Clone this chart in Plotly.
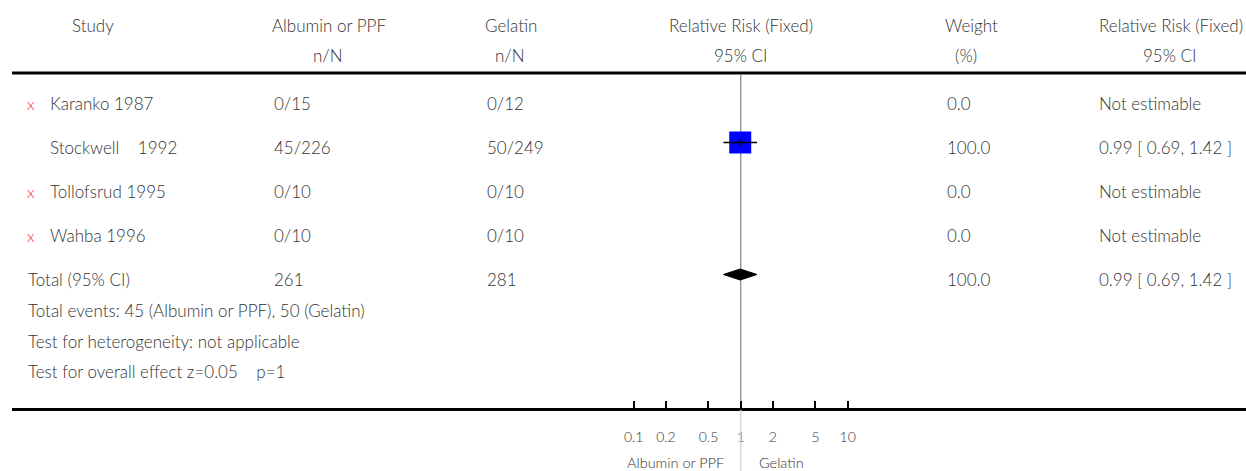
import math
import plotly.graph_objects as go

# ---------------- data ----------------
studies = ["Karanko 1987", "Stockwell    1992", "Tollofsrud 1995", "Wahba 1996"]
excluded = [True, False, True, True]
alb_n = [0, 45, 0, 0]
alb_N = [15, 226, 10, 10]
gel_n = [0, 50, 0, 0]
gel_N = [12, 249, 10, 10]
weights = [0.0, 100.0, 0.0, 0.0]
rr = [None, 0.99, None, None]
rr_lo = [None, 0.69, None, None]
rr_hi = [None, 1.42, None, None]

total_alb_N = 261
total_gel_N = 281
total_weight = 100.0
total_rr, total_lo, total_hi = 0.99, 0.69, 1.42
footer_lines = [
    "Total events: 45 (Albumin or PPF), 50 (Gelatin)",
    "Test for heterogeneity: not applicable",
    "Test for overall effect z=0.05    p=1",
]
tick_vals = [0.1, 0.2, 0.5, 1, 2, 5, 10]
tick_text = ["0.1", "0.2", "0.5", "1", "2", "5", "10"]
favours_left = "Albumin or PPF"
favours_right = "Gelatin"

# ---------------- layout geometry ----------------
W, H = 1246, 471
ML, MB = 12, 63
PLOT_W = W - ML
PLOT_H = H - MB
DEC = 107.0           # pixels per decade
X_ONE = 740.7         # pixel of RR=1
r0 = -(X_ONE - ML) / DEC
r1 = r0 + PLOT_W / DEC

FONT = "Lato"
TXT = "#333333"
FS = 17


def px(xpix):
    return (xpix - ML) / PLOT_W


def py_paper(ypix):
    return (PLOT_H - ypix) / PLOT_H


row_y = [103, 147, 191, 235]
total_y = 279
footer_y = [310, 341, 371]
mark_dy = -4.5

ann = []


def add_text(x, y, text, anchor="left", color=TXT, size=FS, yref="y"):
    ann.append(dict(x=px(x), xref="paper", y=y, yref=yref, text=text,
                    showarrow=False, xanchor=anchor, yanchor="middle",
                    font=dict(family=FONT, size=size, color=color, weight=300)))


# headers
add_text(93, 25, "Study", "center")
add_text(329, 25, "Albumin or PPF", "center")
add_text(328, 55, "n/N", "center")
add_text(511, 25, "Gelatin", "center")
add_text(510, 55, "n/N", "center")
add_text(741, 25, "Relative Risk (Fixed)", "center")
add_text(741, 55, "95% CI", "center")
add_text(971, 25, "Weight", "center")
add_text(966, 55, "(%)", "center")
add_text(1171, 25, "Relative Risk (Fixed)", "center")
add_text(1170, 55, "95% CI", "center")

# study rows
for i, s in enumerate(studies):
    y = row_y[i]
    if excluded[i]:
        add_text(31, y, "x", "center", color="#ff2a2a", size=16)
    add_text(48, y, s)
    add_text(272, y, f"{alb_n[i]}/{alb_N[i]}")
    add_text(485, y, f"{gel_n[i]}/{gel_N[i]}")
    add_text(945, y, f"{weights[i]:.1f}")
    if rr[i] is None:
        add_text(1097, y, "Not estimable")
    else:
        add_text(1097, y, f"{rr[i]:.2f} [ {rr_lo[i]:.2f}, {rr_hi[i]:.2f} ]")

# total row
add_text(26, total_y, "Total (95% CI)")
add_text(272, total_y, str(total_alb_N))
add_text(485, total_y, str(total_gel_N))
add_text(945, total_y, f"{total_weight:.1f}")
add_text(1097, total_y, f"{total_rr:.2f} [ {total_lo:.2f}, {total_hi:.2f} ]")
for t, y in zip(footer_lines, footer_y):
    add_text(26, y, t)

# favours labels below axis
ann.append(dict(x=px(X_ONE - 15), xref="paper", y=py_paper(462), yref="paper",
                text=favours_left, showarrow=False, xanchor="right", yanchor="middle",
                font=dict(family=FONT, size=14.5, color=TXT, weight=300)))
ann.append(dict(x=px(X_ONE + 16), xref="paper", y=py_paper(462), yref="paper",
                text=favours_right, showarrow=False, xanchor="left", yanchor="middle",
                font=dict(family=FONT, size=14.5, color=TXT, weight=300)))

fig = go.Figure()

# vertical line of no effect
fig.add_trace(go.Scatter(x=[1, 1], y=[75, PLOT_H], mode="lines",
                         line=dict(color="#9a9a9a", width=1.5),
                         hoverinfo="skip", showlegend=False))

# study squares and CIs
for i in range(len(studies)):
    if rr[i] is None:
        continue
    y = row_y[i] + mark_dy
    fig.add_trace(go.Scatter(x=[rr[i]], y=[y], mode="markers",
                             marker=dict(symbol="square", size=22, color="#0000ff",
                                         line=dict(width=0)),
                             showlegend=False))
    fig.add_trace(go.Scatter(x=[rr_lo[i], rr_hi[i]], y=[y, y], mode="lines",
                             line=dict(color="black", width=1.5), showlegend=False))
    fig.add_trace(go.Scatter(x=[rr[i]], y=[y], mode="markers",
                             marker=dict(symbol="line-ns", size=5,
                                         line=dict(color="black", width=1)),
                             showlegend=False))

# total diamond
ty = total_y + mark_dy
fig.add_trace(go.Scatter(x=[total_lo, total_rr, total_hi, total_rr, total_lo],
                         y=[ty, ty - 5.5, ty, ty + 5.5, ty],
                         mode="lines", fill="toself", fillcolor="black",
                         line=dict(color="black", width=1), showlegend=False))

shapes = [
    dict(type="line", xref="paper", yref="y", x0=0, x1=1, y0=73, y1=73,
         line=dict(color="black", width=3)),
    dict(type="line", xref="paper", yref="paper", x0=px(X_ONE), x1=px(X_ONE),
         y0=py_paper(PLOT_H + 2), y1=py_paper(H), line=dict(color="#d8d8d8", width=1.5)),
]

fig.update_layout(
    width=W, height=H,
    margin=dict(l=ML, r=0, t=0, b=MB),
    paper_bgcolor="white", plot_bgcolor="white",
    showlegend=False,
    annotations=ann, shapes=shapes,
    xaxis=dict(type="log", range=[r0, r1], showgrid=False, zeroline=False,
               showline=True, linecolor="black", linewidth=3,
               ticks="inside", ticklen=7, tickwidth=2, tickcolor="black",
               tickvals=tick_vals, ticktext=tick_text,
               tickfont=dict(family=FONT, size=14, color=TXT, weight=300),
               ticklabelstandoff=14, fixedrange=True),
    yaxis=dict(range=[PLOT_H, 0], visible=False, fixedrange=True),
)

fig.write_html("out.html")
